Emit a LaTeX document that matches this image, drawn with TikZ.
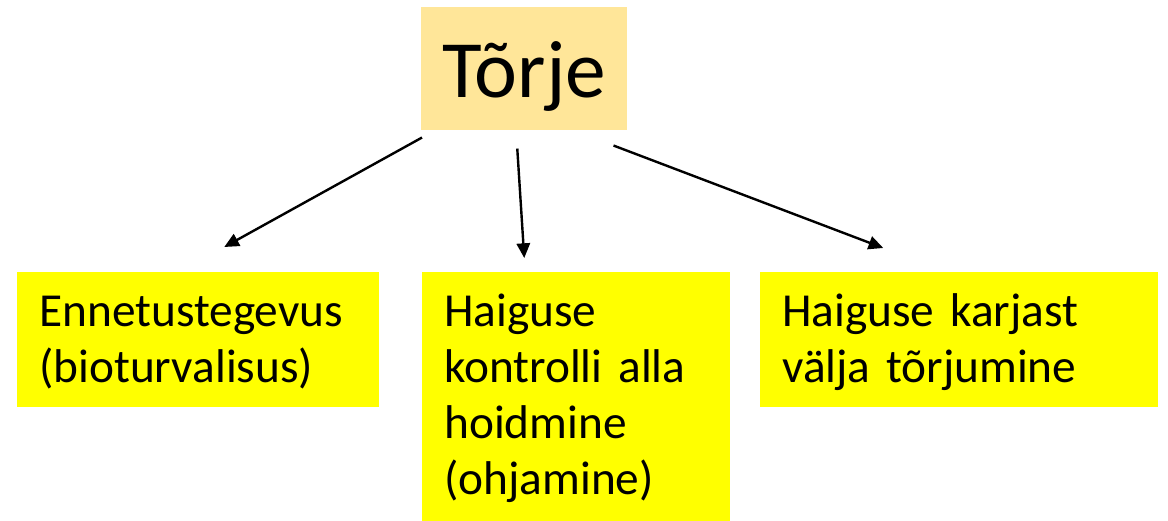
\documentclass[tikz,border=0pt]{standalone}
\usepackage{fontspec}
\setmainfont{Carlito}[WordSpace=0.8]
\usepackage{tikz}
\usetikzlibrary{arrows.meta,calc}

\definecolor{kuld}{HTML}{FFE699}
\definecolor{kollane}{HTML}{FFFF00}

% 1 piksel = 0.75pt
\tikzset{
    leht/.style={fill=kollane, anchor=north west, inner xsep=16.5pt, inner ysep=0pt,
        align=left, text height=40.5pt, font=\fontsize{35.5pt}{42pt}\selectfont},
    nool/.style={-{Triangle[length=11pt, width=10pt]}, line width=1.8pt}
}

\begin{document}
\begin{tikzpicture}[x=0.75pt, y=-0.75pt]
    \useasboundingbox (0, 0) rectangle (1168, 521);
    % ülemine kast
    \node[fill=kuld, anchor=north west, inner sep=0pt, minimum width=154.5pt,
          text height=67.5pt, text depth=24.75pt, font=\fontsize{61pt}{70pt}\selectfont]
        (torje) at (421, 7) {Tõrje};

    % alumised kastid
    \node[leht, text width=238.5pt, text depth=60.75pt] (ennetus) at (17, 272)
        {Ennetustegevus\\(bioturvalisus)};
    \node[leht, text width=198pt, text depth=146.25pt] (kontroll) at (422, 272)
        {Haiguse\\kontrolli alla\\hoidmine\\(ohjamine)};
    \node[leht, text width=265.5pt, text depth=60.75pt] (torjumine) at (760, 272)
        {Haiguse karjast\\välja tõrjumine};

    % nooled
    \draw[nool] ([shift={(1, 7)}]torje.south west) -- ([shift={(26, -25)}]ennetus.north);
    \draw[nool] ([shift={(-7, 18)}]torje.south) -- ([shift={(-52, -14)}]kontroll.north);
    \draw[nool] ([shift={(-14, 15)}]torje.south east) -- ([shift={(-76, -24)}]torjumine.north);
\end{tikzpicture}
\end{document}
